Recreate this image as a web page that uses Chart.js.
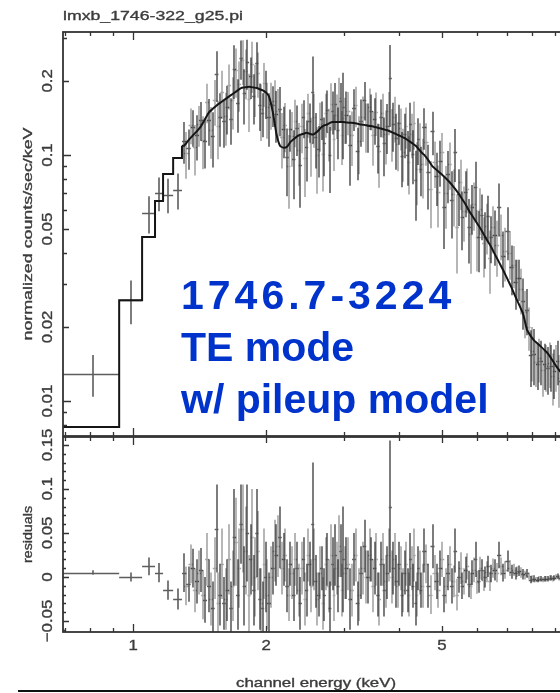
<!DOCTYPE html>
<html>
<head>
<meta charset="utf-8">
<script src="https://cdn.jsdelivr.net/npm/chart.js@4.4.0/dist/chart.umd.min.js"></script>
<style>
  html, body { margin: 0; padding: 0; background: #fff; }
  #wrap { position: relative; width: 560px; height: 693px; overflow: hidden; background: #fff; }
  #top { position: absolute; left: 0; top: 0; }
  #bot { position: absolute; left: 0; top: 400px; }
  #note { position: absolute; left: 181px; top: 269px; font: bold 41px "Liberation Sans", Arial, sans-serif;
          line-height: 52px; color: #0033cc; white-space: nowrap; }
  #note .id { letter-spacing: 4px; }
  #rule { position: absolute; left: 18px; top: 690px; width: 560px; height: 2px; background: #111; }
</style>
</head>
<body>
<div id="wrap">
  <canvas id="top" width="590" height="437"></canvas>
  <canvas id="bot" width="590" height="293"></canvas>
  <div id="note"><div class="id">1746.7-3224</div><div>TE mode</div><div>w/ pileup model</div></div>
  <div id="rule"></div>
</div>
<script>
// group 1: channel bin edges (keV)
const edges = [
  0.694, 0.930, 1.048, 1.121, 1.169, 1.232, 1.29,
  1.32, 1.35, 1.38, 1.41, 1.44, 1.47, 1.50, 1.53, 1.56, 1.59, 1.62, 1.65, 1.68, 1.71, 1.74, 1.77, 1.80, 1.83, 1.86, 1.89, 1.92, 1.95, 1.98, 2.01,
  2.05, 2.09, 2.13, 2.17, 2.21, 2.25, 2.29, 2.33, 2.37, 2.41, 2.45, 2.49, 2.53, 2.57, 2.61, 2.65, 2.69, 2.73, 2.77, 2.81, 2.85, 2.89, 2.93, 2.97, 3.01,
  3.07, 3.13, 3.19, 3.25, 3.31, 3.37, 3.43, 3.49, 3.55, 3.61, 3.67, 3.73, 3.79, 3.85, 3.91, 3.97, 4.03, 4.09, 4.15, 4.21, 4.27, 4.33, 4.39, 4.45, 4.51,
  4.61, 4.71, 4.81, 4.91, 5.01, 5.11, 5.21, 5.31, 5.41, 5.51, 5.61, 5.71, 5.81, 5.91, 6.01, 6.11, 6.21, 6.31, 6.41, 6.51,
  6.66, 6.81, 6.96, 7.11, 7.26, 7.41, 7.56, 7.71, 7.86, 8.01, 8.16, 8.31, 8.46, 8.61, 8.76, 8.91, 9.06, 9.21, 9.36, 9.51, 9.66
];

// folded model, counts/sec/keV per group-1 bin
const modelY = [
  0.00784, 0.0257, 0.0464, 0.0650, 0.0837, 0.0972,
  0.109, 0.115, 0.120, 0.125, 0.131, 0.140, 0.149, 0.154, 0.159, 0.163, 0.167, 0.171, 0.175, 0.179, 0.183, 0.187, 0.188, 0.189, 0.189, 0.188, 0.187, 0.185, 0.183, 0.180,
  0.173, 0.150, 0.122, 0.109, 0.107, 0.108, 0.113, 0.116, 0.119, 0.121, 0.122, 0.123, 0.122, 0.121, 0.123, 0.126, 0.130, 0.132, 0.133, 0.135, 0.136, 0.136, 0.136, 0.136, 0.136,
  0.1355, 0.1352, 0.135, 0.134, 0.133, 0.1325, 0.1315, 0.131, 0.130, 0.129, 0.128, 0.127, 0.126, 0.1245, 0.123, 0.1215, 0.120, 0.1185, 0.117, 0.115, 0.113, 0.111, 0.109, 0.106, 0.103,
  0.100, 0.095, 0.0898, 0.087, 0.0843, 0.0815, 0.0787, 0.0758, 0.0726, 0.0694, 0.0660, 0.0628, 0.0592, 0.0565, 0.0538, 0.0514, 0.0490, 0.0465, 0.0443, 0.0423,
  0.0395, 0.0366, 0.0339, 0.0313, 0.0289, 0.0265, 0.0245, 0.0225, 0.0195, 0.0184, 0.0176, 0.0171, 0.0166, 0.0161, 0.0156, 0.0149, 0.0142, 0.0136, 0.0131, 0.0127, 0.0122
];

// group 1 counts/sec/keV
const dataY = [
  0.0129, 0.0257, 0.058, 0.070, 0.069, 0.072,
  0.114, 0.107, 0.130, 0.120, 0.139, 0.114, 0.139, 0.119, 0.214, 0.143, 0.137, 0.156, 0.140, 0.224, 0.163, 0.247, 0.178, 0.239, 0.209, 0.173, 0.237, 0.160, 0.148, 0.180,
  0.143, 0.160, 0.147, 0.154, 0.127, 0.098, 0.128, 0.096, 0.129, 0.091, 0.142, 0.108, 0.137, 0.181, 0.118, 0.106, 0.140, 0.112, 0.153, 0.100, 0.151, 0.161, 0.126, 0.166, 0.156,
  0.146, 0.110, 0.155, 0.104, 0.138, 0.168, 0.132, 0.151, 0.140, 0.109, 0.143, 0.112, 0.131, 0.205, 0.133, 0.117, 0.135, 0.099, 0.122, 0.100, 0.133, 0.101, 0.079, 0.116, 0.088,
  0.130, 0.085, 0.1248, 0.082, 0.0943, 0.0615, 0.0837, 0.0658, 0.1026, 0.0694, 0.0560, 0.0708, 0.0512, 0.0615, 0.0738, 0.0464, 0.0570, 0.0465, 0.0563, 0.0463,
  0.0475, 0.0616, 0.0389, 0.0493, 0.0349, 0.0305, 0.0315, 0.0255, 0.0235, 0.0154, 0.0156, 0.0141, 0.0146, 0.0141, 0.0136, 0.0139, 0.0132, 0.0146, 0.0121, 0.0127, 0.0122
];

const dataErr = [
  0.0025, 0.0052, 0.010, 0.011, 0.011, 0.012,
  0.022, 0.020, 0.022, 0.025, 0.025, 0.026, 0.030, 0.030, 0.050, 0.035, 0.030, 0.035, 0.030, 0.055, 0.040, 0.045, 0.045, 0.055, 0.040, 0.040, 0.050, 0.035, 0.030, 0.040,
  0.035, 0.030, 0.035, 0.035, 0.030, 0.030, 0.025, 0.030, 0.030, 0.030, 0.025, 0.030, 0.025, 0.070, 0.030, 0.025, 0.025, 0.030, 0.030, 0.030, 0.030, 0.035, 0.030, 0.030, 0.060,
  0.035, 0.035, 0.030, 0.025, 0.030, 0.030, 0.030, 0.025, 0.030, 0.025, 0.025, 0.030, 0.030, 0.075, 0.030, 0.030, 0.025, 0.025, 0.025, 0.025, 0.030, 0.025, 0.025, 0.025, 0.020,
  0.025, 0.025, 0.025, 0.020, 0.020, 0.020, 0.020, 0.020, 0.025, 0.018, 0.015, 0.015, 0.015, 0.014, 0.020, 0.013, 0.012, 0.012, 0.012, 0.010,
  0.012, 0.015, 0.010, 0.012, 0.008, 0.007, 0.006, 0.006, 0.005, 0.004, 0.004, 0.003, 0.003, 0.003, 0.003, 0.003, 0.003, 0.003, 0.003, 0.003, 0.003
];

// group 1 residuals (data - model)
const resY = [
  0.005, 0.0, 0.012, 0.005, -0.015, -0.025,
  0.005, -0.008, 0.010, -0.005, 0.008, -0.026, -0.010, -0.035, 0.055, -0.020, -0.030, -0.015, -0.035, 0.045, -0.020, 0.060, -0.010, 0.050, 0.020, -0.015, 0.050, -0.025, -0.035, 0.0,
  -0.030, 0.010, 0.025, 0.045, 0.020, -0.010, 0.015, -0.020, 0.010, -0.030, 0.020, -0.015, 0.015, 0.060, -0.005, -0.020, 0.010, -0.020, 0.020, -0.035, 0.015, 0.025, -0.010, 0.030, 0.020,
  0.010, -0.025, 0.020, -0.030, 0.005, 0.035, 0.0, 0.020, 0.010, -0.020, 0.015, -0.015, 0.005, 0.080, 0.010, -0.005, 0.015, -0.020, 0.005, -0.015, 0.020, -0.010, -0.030, 0.010, -0.015,
  0.030, -0.010, 0.035, -0.005, 0.010, -0.020, 0.005, -0.010, 0.030, 0.0, -0.010, 0.008, -0.008, 0.005, 0.020, -0.005, 0.008, 0.0, 0.012, 0.004,
  0.008, 0.025, 0.005, 0.018, 0.006, 0.004, 0.007, 0.003, 0.004, -0.003, -0.002, -0.003, -0.002, -0.002, -0.002, -0.001, -0.001, 0.001, -0.001, 0.0, 0.0
];

// group 2 (light grey): bin edges (keV)
const edges2 = [
  1.305, 1.335, 1.365, 1.395, 1.425, 1.455, 1.485, 1.515, 1.545, 1.575, 1.605, 1.635, 1.665, 1.695, 1.725, 1.755, 1.785, 1.815, 1.845, 1.875, 1.905, 1.935, 1.965, 1.995,
  2.03, 2.07, 2.11, 2.15, 2.19, 2.23, 2.27, 2.31, 2.35, 2.39, 2.43, 2.47, 2.51, 2.55, 2.59, 2.63, 2.67, 2.71, 2.75, 2.79, 2.83, 2.87, 2.91, 2.95, 2.99,
  3.04, 3.10, 3.16, 3.22, 3.28, 3.34, 3.40, 3.46, 3.52, 3.58, 3.64, 3.70, 3.76, 3.82, 3.88, 3.94, 4.00, 4.06, 4.12, 4.18, 4.24, 4.30, 4.36, 4.42, 4.48,
  4.56, 4.66, 4.76, 4.86, 4.96, 5.06, 5.16, 5.26, 5.36, 5.46, 5.56, 5.66, 5.76, 5.86, 5.96, 6.06, 6.16, 6.26, 6.36, 6.46,
  6.585, 6.735, 6.885, 7.035, 7.185, 7.335, 7.485, 7.635, 7.785, 7.935, 8.085, 8.235, 8.385, 8.535, 8.685, 8.835, 8.985, 9.135, 9.285, 9.435, 9.585
];

const data2Y = [
  0.102, 0.1325, 0.1075, 0.133, 0.1155, 0.1645, 0.1265, 0.1665, 0.131, 0.180, 0.144, 0.193, 0.167, 0.221, 0.195, 0.2425, 0.2185, 0.169, 0.2335, 0.1875, 0.216, 0.154, 0.1965, 0.1565,
  0.1615, 0.166, 0.1505, 0.118, 0.1325, 0.0905, 0.1195, 0.1375, 0.105, 0.1315, 0.0975, 0.1475, 0.1115, 0.142, 0.0995, 0.133, 0.101, 0.1475, 0.124, 0.1605, 0.116, 0.146, 0.171, 0.121, 0.1407,
  0.1503, 0.1201, 0.1595, 0.1135, 0.1428, 0.132, 0.1563, 0.1205, 0.1495, 0.1035, 0.1475, 0.1215, 0.1503, 0.1238, 0.1423, 0.1108, 0.1293, 0.1028, 0.131, 0.094, 0.122, 0.135, 0.0875, 0.1095, 0.0915,
  0.1125, 0.0724, 0.0934, 0.0707, 0.1029, 0.0701, 0.0923, 0.0692, 0.051, 0.0777, 0.0594, 0.073, 0.0479, 0.0632, 0.0466, 0.0602, 0.0438, 0.0514, 0.0383, 0.0509,
  0.043, 0.0473, 0.0406, 0.0401, 0.0357, 0.0315, 0.0285, 0.023, 0.020, 0.016, 0.0144, 0.0149, 0.0134, 0.0139, 0.0143, 0.0126, 0.0139, 0.0124, 0.0139, 0.0125
];

const data2Err = [
  0.022, 0.022, 0.025, 0.025, 0.028, 0.030, 0.030, 0.035, 0.035, 0.040, 0.035, 0.040, 0.040, 0.050, 0.045, 0.050, 0.050, 0.045, 0.055, 0.045, 0.045, 0.040, 0.040, 0.040,
  0.035, 0.035, 0.035, 0.030, 0.030, 0.030, 0.030, 0.030, 0.030, 0.030, 0.030, 0.030, 0.030, 0.035, 0.030, 0.030, 0.030, 0.030, 0.030, 0.035, 0.030, 0.030, 0.035, 0.030, 0.030,
  0.030, 0.030, 0.030, 0.030, 0.030, 0.030, 0.030, 0.030, 0.030, 0.030, 0.030, 0.030, 0.030, 0.030, 0.030, 0.025, 0.025, 0.025, 0.025, 0.025, 0.025, 0.030, 0.025, 0.025, 0.025,
  0.022, 0.022, 0.020, 0.020, 0.020, 0.020, 0.020, 0.018, 0.018, 0.018, 0.015, 0.015, 0.015, 0.014, 0.013, 0.013, 0.012, 0.012, 0.011, 0.011,
  0.011, 0.010, 0.010, 0.009, 0.007, 0.006, 0.006, 0.005, 0.004, 0.004, 0.003, 0.003, 0.003, 0.003, 0.003, 0.003, 0.003, 0.003, 0.003, 0.003
];

const res2Y = [
  -0.010, 0.015, -0.015, 0.005, -0.020, 0.020, -0.025, 0.010, -0.030, 0.015, -0.025, 0.020, -0.010, 0.040, 0.010, 0.055, 0.030, -0.020, 0.045, 0.0, 0.030, -0.030, 0.015, -0.020,
  0.0, 0.030, 0.035, 0.010, 0.025, -0.020, 0.005, 0.020, -0.015, 0.010, -0.025, 0.025, -0.010, 0.020, -0.025, 0.005, -0.030, 0.015, -0.010, 0.025, -0.020, 0.010, 0.035, -0.015, 0.005,
  0.015, -0.015, 0.025, -0.020, 0.010, 0.0, 0.025, -0.010, 0.020, -0.025, 0.020, -0.005, 0.025, 0.0, 0.020, -0.010, 0.010, -0.015, 0.015, -0.020, 0.010, 0.025, -0.020, 0.005, -0.010,
  0.015, -0.020, 0.005, -0.015, 0.020, -0.010, 0.015, -0.005, -0.020, 0.010, -0.005, 0.012, -0.010, 0.008, -0.006, 0.010, -0.004, 0.006, -0.005, 0.010,
  0.005, 0.012, 0.008, 0.010, 0.008, 0.006, 0.005, 0.002, 0.001, -0.002, -0.003, -0.002, -0.003, -0.002, -0.001, -0.002, 0.0, -0.001, 0.001, 0.0
];

// axes
const xTicks = [0.7, 0.8, 0.9, 1, 2, 3, 4, 5, 6, 7, 8, 9, 10];
const xLabelVals = [1, 2, 5];
const topTicks = [0.008, 0.009, 0.01, 0.02, 0.03, 0.04, 0.05, 0.06, 0.07, 0.08, 0.09, 0.1, 0.2, 0.3];
const topLabelVals = [0.01, 0.02, 0.05, 0.1, 0.2];
const resTicks = [-0.06, -0.05, -0.04, -0.03, -0.02, -0.01, 0, 0.01, 0.02, 0.03, 0.04, 0.05,
                  0.06, 0.07, 0.08, 0.09, 0.1, 0.11, 0.12, 0.13, 0.14, 0.15];
const resLabelVals = [-0.05, 0, 0.05, 0.1, 0.15];

// wide bins at low energy are drawn as a histogram, the rest as a curve
const STEP_BINS = 6;

const FONT = '"Liberation Sans", Arial, Helvetica, sans-serif';
const INK = '#333';
const TEXT = '#3c3c3c';
const DARK = 'rgba(30,30,30,0.72)';
const LIGHT = 'rgba(105,105,105,0.6)';

function label(ctx, str, x, y, opt) {
  ctx.save();
  ctx.translate(x, y);
  if (opt.rot) ctx.rotate(opt.rot);
  ctx.font = opt.size + 'px ' + FONT;
  const w = ctx.measureText(str).width;
  ctx.scale(opt.width ? opt.width / w : (opt.sx || 1), 1);
  ctx.fillStyle = TEXT;
  ctx.strokeStyle = TEXT;
  ctx.lineWidth = 0.35;
  ctx.textAlign = opt.align || 'center';
  ctx.textBaseline = 'middle';
  ctx.fillText(str, 0, 0);
  ctx.strokeText(str, 0, 0);
  ctx.restore();
}

function fmt(v) {
  return v < 0 ? '\u2212' + String(-v) : String(v);
}

function crosses(chart, bins, ys, errs, color) {
  const { ctx, chartArea: a, scales: { x, y } } = chart;
  ctx.save();
  ctx.beginPath();
  ctx.rect(a.left, a.top, a.right - a.left, a.bottom - a.top);
  ctx.clip();
  ctx.strokeStyle = color;
  ctx.lineWidth = 1.6;
  for (let i = 0; i < ys.length; i++) {
    const lo = bins[i], hi = bins[i + 1];
    const px = Math.round(x.getPixelForValue((lo + hi) / 2));
    const py = Math.round(y.getPixelForValue(ys[i])) + 0.5;
    ctx.beginPath();
    ctx.moveTo(x.getPixelForValue(lo), py);
    ctx.lineTo(x.getPixelForValue(hi), py);
    ctx.moveTo(px, y.getPixelForValue(ys[i] + errs[i]));
    ctx.lineTo(px, y.getPixelForValue(ys[i] - errs[i]));
    ctx.stroke();
  }
  ctx.restore();
}

function frame(chart, yTicks, yLen) {
  const { ctx, chartArea: a, scales: { x, y } } = chart;
  ctx.save();
  ctx.strokeStyle = INK;
  ctx.lineWidth = 1.8;
  ctx.strokeRect(a.left, a.top, a.right - a.left, a.bottom - a.top);
  ctx.lineWidth = 1.3;
  ctx.beginPath();
  xTicks.forEach(v => {
    const px = Math.round(x.getPixelForValue(v)) + 0.5;
    const len = (v === 1 || v === 10) ? 8 : xLabelVals.includes(v) ? 6 : 4;
    ctx.moveTo(px, a.top); ctx.lineTo(px, a.top + len);
    ctx.moveTo(px, a.bottom); ctx.lineTo(px, a.bottom - len);
  });
  yTicks.forEach(v => {
    const py = Math.round(y.getPixelForValue(v)) + 0.5;
    const len = yLen(v);
    ctx.moveTo(a.left, py); ctx.lineTo(a.left + len, py);
    ctx.moveTo(a.right, py); ctx.lineTo(a.right - len, py);
  });
  ctx.stroke();
  ctx.restore();
}

const stepPts = edges.slice(0, STEP_BINS + 1).map((e, i) => ({ x: e, y: modelY[i] }));
const curvePts = [{ x: edges[STEP_BINS], y: modelY[STEP_BINS] }];
for (let i = STEP_BINS; i < modelY.length; i++) {
  curvePts.push({ x: (edges[i] + edges[i + 1]) / 2, y: modelY[i] });
}
curvePts.push({ x: edges[edges.length - 1], y: modelY[modelY.length - 1] });
const centres = (bins, ys) => ys.map((v, i) => ({ x: (bins[i] + bins[i + 1]) / 2, y: v }));

const xScale = { type: 'logarithmic', min: 0.694, max: 10, bounds: 'data', display: false };
const modelStyle = { borderColor: '#151515', borderWidth: 2, pointRadius: 0, fill: false };

new Chart(document.getElementById('top'), {
  type: 'line',
  data: {
    datasets: [
      Object.assign({ label: 'model', data: stepPts, stepped: true }, modelStyle),
      Object.assign({ label: 'model curve', data: curvePts, tension: 0.2 }, modelStyle),
      { label: 'data 1', data: centres(edges, dataY), showLine: false, pointRadius: 0 },
      { label: 'data 2', data: centres(edges2, data2Y), showLine: false, pointRadius: 0 }
    ]
  },
  options: {
    responsive: false,
    animation: false,
    devicePixelRatio: 1,
    layout: { padding: { left: 63, right: 15, top: 32, bottom: 1 } },
    plugins: { legend: { display: false }, tooltip: { enabled: false } },
    scales: {
      x: xScale,
      y: { type: 'logarithmic', min: 0.00721, max: 0.316, bounds: 'data', display: false }
    }
  },
  plugins: [{
    id: 'xspecTop',
    beforeDatasetsDraw(chart) {
      crosses(chart, edges2, data2Y, data2Err, LIGHT);
      crosses(chart, edges, dataY, dataErr, DARK);
    },
    afterDraw(chart) {
      const { ctx, chartArea: a, scales: { y } } = chart;
      frame(chart, topTicks, v => (v === 0.01 || v === 0.1) ? 8 : topLabelVals.includes(v) ? 6 : 4);
      topLabelVals.forEach(v => label(ctx, fmt(v), 48, y.getPixelForValue(v), { rot: -Math.PI / 2, size: 15, sx: 1.12 }));
      label(ctx, 'normalized counts/sec/keV', 28, (a.top + a.bottom) / 2, { rot: -Math.PI / 2, size: 13, width: 213 });
      label(ctx, 'lmxb_1746-322_g25.pi', 63, 16, { size: 13, width: 180, align: 'left' });
    }
  }]
});

new Chart(document.getElementById('bot'), {
  type: 'line',
  data: {
    datasets: [
      { label: 'residuals 1', data: centres(edges, resY), showLine: false, pointRadius: 0 },
      { label: 'residuals 2', data: centres(edges2, res2Y), showLine: false, pointRadius: 0 }
    ]
  },
  options: {
    responsive: false,
    animation: false,
    devicePixelRatio: 1,
    layout: { padding: { left: 63, right: 15, top: 37, bottom: 61 } },
    plugins: { legend: { display: false }, tooltip: { enabled: false } },
    scales: {
      x: xScale,
      y: { type: 'linear', min: -0.0625, max: 0.159, bounds: 'data', display: false }
    }
  },
  plugins: [{
    id: 'xspecBottom',
    beforeDatasetsDraw(chart) {
      crosses(chart, edges2, res2Y, data2Err, LIGHT);
      crosses(chart, edges, resY, dataErr, DARK);
    },
    afterDraw(chart) {
      const { ctx, chartArea: a, scales: { x, y } } = chart;
      frame(chart, resTicks, v => resLabelVals.includes(v) ? 6 : 3);
      resLabelVals.forEach(v => label(ctx, fmt(v), 48, y.getPixelForValue(v), { rot: -Math.PI / 2, size: 15, sx: 1.12 }));
      label(ctx, 'residuals', 28, (a.top + a.bottom) / 2, { rot: -Math.PI / 2, size: 13, width: 57 });
      xLabelVals.forEach(v => label(ctx, String(v), x.getPixelForValue(v), a.bottom + 14, { size: 15, sx: 1.12 }));
      label(ctx, 'channel energy (keV)', 316, a.bottom + 51, { size: 13, width: 160 });
    }
  }]
});
</script>
</body>
</html>
